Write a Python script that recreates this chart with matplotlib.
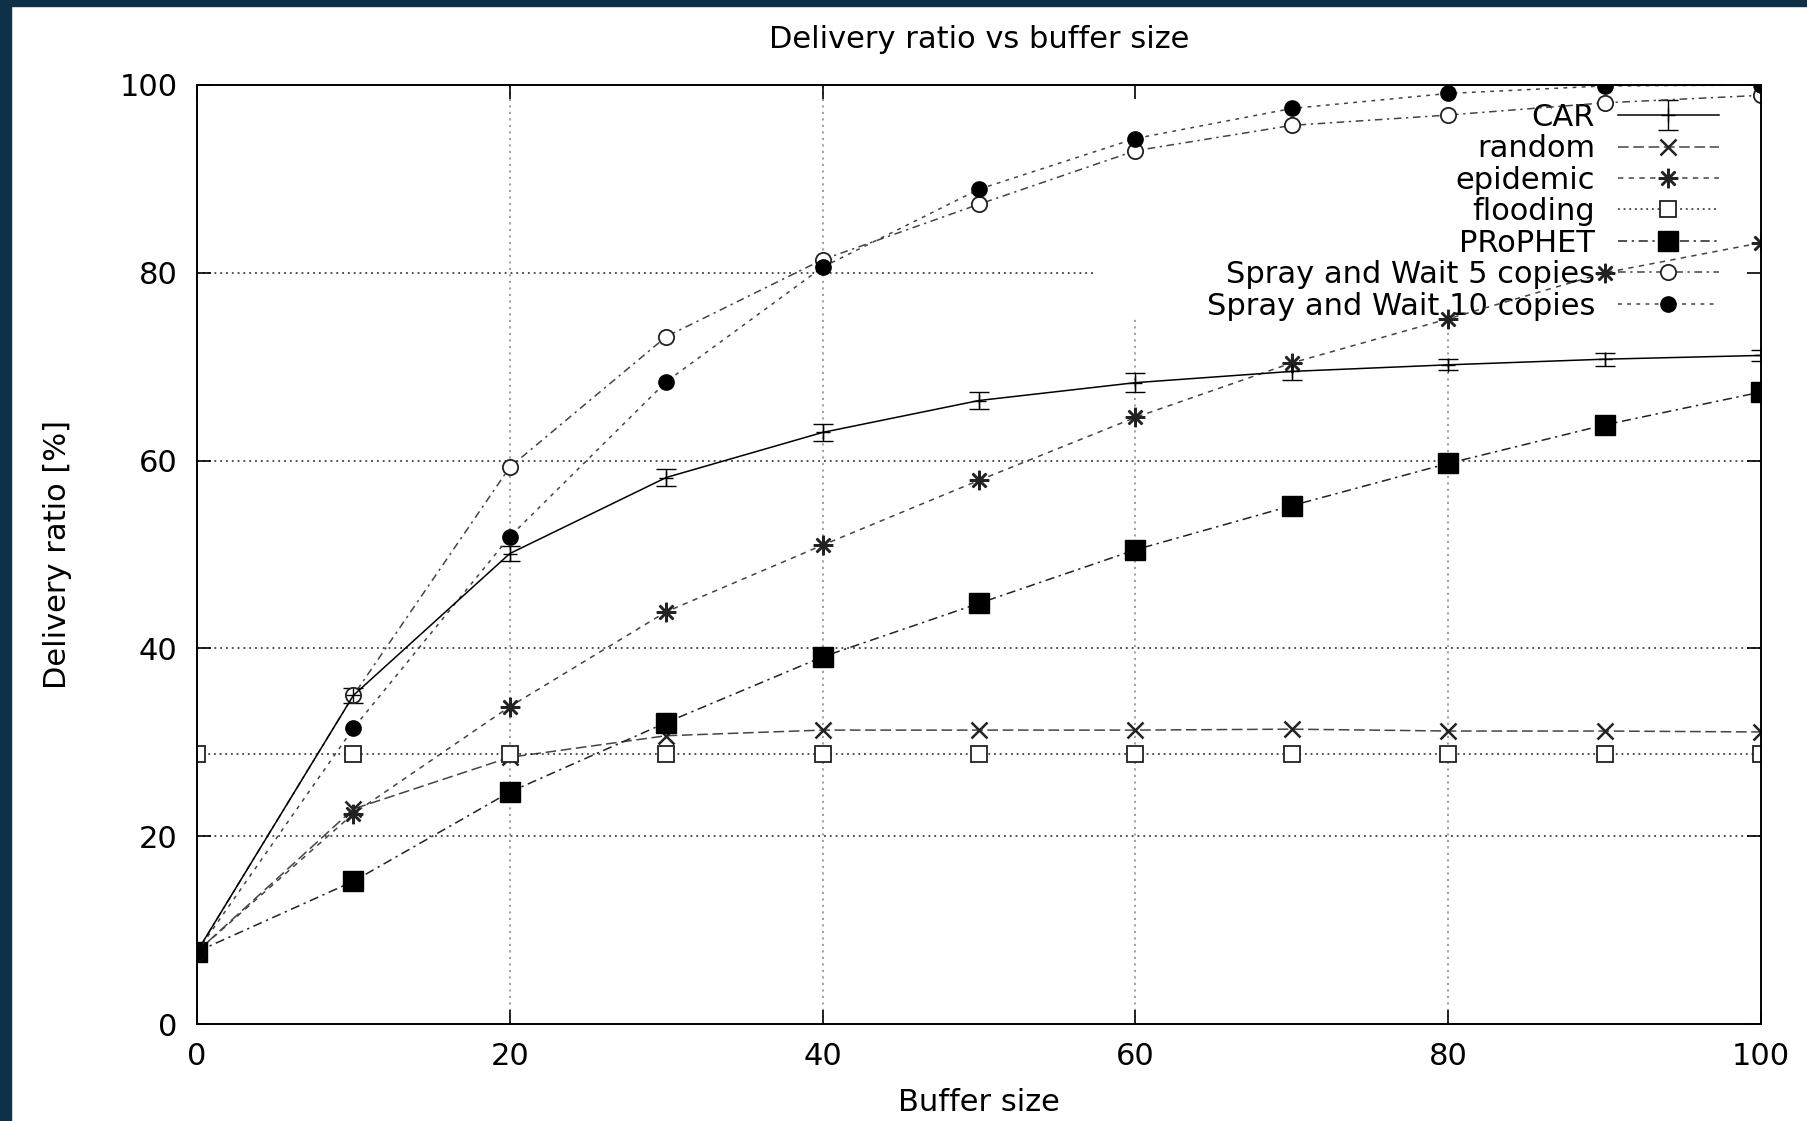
import numpy as np
import matplotlib
matplotlib.use("Agg")
import matplotlib.pyplot as plt
from matplotlib.patches import Rectangle

# buffer sizes
buf = [0, 10, 20, 30, 40, 50, 60, 70, 80, 90, 100]

car = [7.7, 35.0, 50.1, 58.2, 63.0, 66.4, 68.3, 69.5, 70.2, 70.8, 71.2]
car_err = [0.3, 0.8, 0.8, 0.9, 0.9, 0.9, 1.0, 0.9, 0.6, 0.7, 0.6]
random_ = [7.7, 22.9, 28.4, 30.7, 31.3, 31.3, 31.3, 31.4, 31.2, 31.2, 31.1]
epidemic = [7.7, 22.4, 33.8, 43.9, 51.0, 57.9, 64.6, 70.4, 75.1, 80.0, 83.2]
flooding = [28.8, 28.8, 28.8, 28.8, 28.8, 28.8, 28.8, 28.8, 28.8, 28.8, 28.8]
prophet = [7.7, 15.2, 24.7, 32.1, 39.1, 44.8, 50.5, 55.2, 59.7, 63.8, 67.3]
snw5 = [7.7, 35.0, 59.3, 73.2, 81.4, 87.3, 93.0, 95.7, 96.8, 98.1, 98.9]
snw10 = [7.7, 31.5, 51.9, 68.4, 80.6, 88.9, 94.3, 97.5, 99.1, 99.9, 100.0]

labels = ["CAR", "random", "epidemic", "flooding", "PRoPHET",
          "Spray and Wait 5 copies", "Spray and Wait 10 copies"]

ticks = [0, 20, 40, 60, 80, 100]

W, H = 1807, 1121
fig = plt.figure(figsize=(W / 100, H / 100), dpi=100)
fig.patch.set_facecolor("white")
ax = fig.add_axes([197 / W, 1 - 1024 / H, (1761 - 197) / W, (1024 - 85) / H])

fs = 22

# grid (the key area hides part of it, like gnuplot)
for v in [20, 40, 60, 80]:
    top = 0.752 if v >= 60 else 1.0
    ax.axvline(v, ymax=top, color="#9a9a9a", lw=1.3, ls=(0, (1.2, 2.4)), zorder=0.5)
for v in [20, 40, 60, 80]:
    right = 0.573 if v == 80 else 1.0
    ax.axhline(v, xmax=right, color="#222222", lw=1.1, ls=(0, (1.2, 2.6)), zorder=0.5)

lw = 1.1
car_h = ax.errorbar(buf, car, yerr=car_err, color="black", lw=lw, ls="-",
                    marker="+", ms=10, capsize=7, elinewidth=1.0, capthick=1.0)
h_random, = ax.plot(buf, random_, color="#444444", lw=lw, ls=(0, (7, 3)),
                    marker="x", ms=12, mew=1.8, mec="#222222")
h_epi, = ax.plot(buf, epidemic, color="#444444", lw=lw, ls=(0, (3.5, 3.5)),
                 marker=(8, 2, 0), ms=14, mew=1.8, mec="#222222")
h_flood, = ax.plot(buf, flooding, color="#222222", lw=lw, ls=(0, (1.2, 2.5)),
                   marker="s", ms=11, mfc="white", mec="#222222", mew=1.3)
h_pro, = ax.plot(buf, prophet, color="#222222", lw=lw, ls=(0, (6, 3, 1.5, 3)),
                 marker="s", ms=14, mfc="black", mec="black")
h_s5, = ax.plot(buf, snw5, color="#444444", lw=lw, ls=(0, (5, 3, 1.5, 3)),
                marker="o", ms=11, mfc="white", mec="#222222", mew=1.3)
h_s10, = ax.plot(buf, snw10, color="#444444", lw=lw, ls=(0, (2.5, 3.5)),
                 marker="o", ms=11, mfc="black", mec="black")

ax.set_xlim(0, 100)
ax.set_ylim(0, 100)
ax.set_xticks(ticks)
ax.set_yticks(ticks)
ax.tick_params(direction="in", length=10, width=1.2, top=True, right=True,
               labelsize=fs)
ax.tick_params(axis="y", pad=14)
ax.tick_params(axis="x", pad=13)
for s in ax.spines.values():
    s.set_linewidth(1.4)

ax.set_title("Delivery ratio vs buffer size", fontsize=fs, pad=27)
ax.set_xlabel("Buffer size", fontsize=fs, labelpad=12)
ax.set_ylabel("Delivery ratio [%]", fontsize=fs, labelpad=34)

leg = ax.legend([car_h, h_random, h_epi, h_flood, h_pro, h_s5, h_s10], labels,
                loc="upper right", bbox_to_anchor=(0.973, 0.981),
                markerfirst=False, frameon=False, fontsize=fs,
                handlelength=3.3, handletextpad=0.75, labelspacing=0.08,
                borderpad=0, borderaxespad=0)
leg.set_zorder(1)

# dark page border at left and top
fig.add_artist(Rectangle((0, 0), 11 / W, 1, transform=fig.transFigure,
                         color="#0e3149", zorder=10))
fig.add_artist(Rectangle((0, 1 - 6 / H), 1, 6 / H, transform=fig.transFigure,
                         color="#0e3149", zorder=10))

plt.savefig("out.png", dpi=100)
